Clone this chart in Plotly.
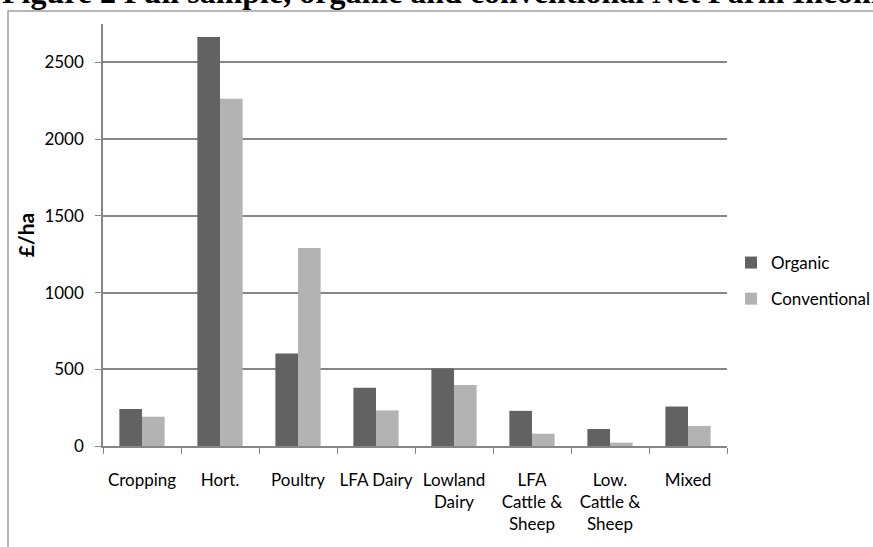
import plotly.graph_objects as go

categories = ["Cropping", "Hort.", "Poultry", "LFA Dairy", "Lowland<br>Dairy",
              "LFA<br>Cattle &<br>Sheep", "Low.<br>Cattle &<br>Sheep", "Mixed"]
organic = [241, 2665, 603, 380, 505, 229, 111, 257]
conventional = [191, 2263, 1291, 232, 397, 80, 22, 131]
y_ticks = [0, 500, 1000, 1500, 2000, 2500]

W, H = 873, 547
L, R, T, B = 103, 146, 24, 101
PW, PH = W - L - R, H - T - B

def px_x(p):
    return (p - L) / PW

def px_y(p):
    return 1 - (p - T) / PH

FONT = "Lato"
fig = go.Figure()
fig.add_trace(go.Bar(x=categories, y=organic, name="Organic",
                     marker=dict(color="#626262", line=dict(width=0)),
                     legendgroup="a"))
fig.add_trace(go.Bar(x=categories, y=conventional, name="Conventional",
                     marker=dict(color="#b3b3b3", line=dict(width=0)),
                     legendgroup="b"))

fig.update_layout(
    width=W, height=H,
    margin=dict(l=L, r=R, t=T, b=B, pad=0, autoexpand=False),
    paper_bgcolor="white", plot_bgcolor="white",
    barmode="group", bargap=0.42, bargroupgap=0,
    font=dict(family=FONT, size=17, color="#000000"),
    showlegend=True,
    legend=dict(x=px_x(731), y=px_y(245), xanchor="left", yanchor="top",
                font=dict(family=FONT, size=17, color="#000000"),
                traceorder="grouped", tracegroupgap=11,
                bgcolor="rgba(0,0,0,0)"),
    xaxis=dict(showline=True, linecolor="#868686", linewidth=1.5,
               ticks="outside", ticklen=6, tickcolor="#868686",
               tickson="boundaries", showgrid=False, tickangle=0,
               automargin=False,
               tickfont=dict(family=FONT, size=17, color="#000000"),
               ticklabelstandoff=18, fixedrange=True),
    yaxis=dict(range=[0, 2750], tickvals=y_ticks, showline=True,
               linecolor="#868686", linewidth=1.5, ticks="outside",
               ticklen=6, tickcolor="#868686", showgrid=True,
               gridcolor="#868686", gridwidth=1.5, zeroline=False,
               automargin=False, ticklabelstandoff=8,
               tickfont=dict(family=FONT, size=17, color="#000000"),
               title=dict(text="<b>£/ha</b>", font=dict(family=FONT, size=21),
                          standoff=4), fixedrange=True),
    shapes=[dict(type="rect", xref="paper", yref="paper",
                 x0=px_x(8), x1=px_x(W + 50), y0=px_y(H + 50), y1=px_y(11),
                 line=dict(color="#a0a0a0", width=1.5), fillcolor="rgba(0,0,0,0)",
                 layer="below")],
    annotations=[dict(text="<b>Figure 2 Full sample, organic and conventional Net Farm Income</b>",
                      xref="paper", yref="paper", x=px_x(0), y=px_y(12.5),
                      xanchor="left", yanchor="bottom", showarrow=False,
                      font=dict(family="Liberation Serif", size=32, color="#000000"))],
)

fig.write_html("out.html", config={"displayModeBar": False},
               post_script="document.body.style.margin='0';document.body.style.overflow='hidden';")
